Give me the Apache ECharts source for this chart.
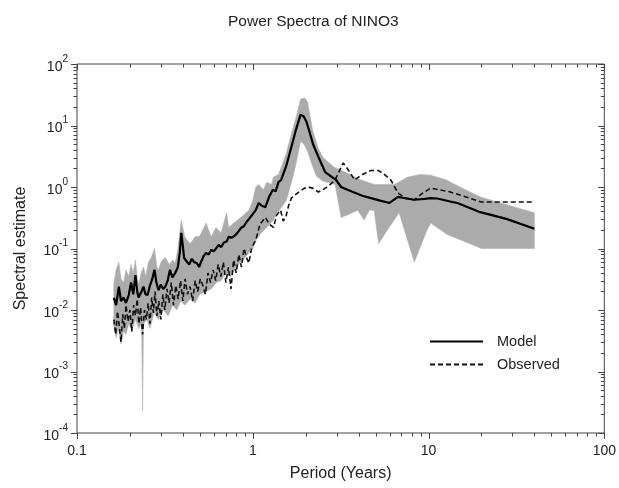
<!DOCTYPE html>
<html><head><meta charset="utf-8">
<script src="https://cdn.jsdelivr.net/npm/echarts@6/dist/echarts.min.js"></script>
<style>html,body{margin:0;padding:0;background:#fff}#c{width:619px;height:488px}</style>
</head><body><div id="c"></div>
<script>
// ---------- DATA ----------
const modelPeriod = [0.162,0.167,0.173,0.178,0.184,0.190,0.197,0.203,0.209,0.215,0.220,0.224,0.231,0.239,0.245,0.252,0.260,0.268,0.276,0.283,0.291,0.300,0.309,0.318,0.328,0.338,0.349,0.362,0.375,0.385,0.392,0.400,0.407,0.420,0.435,0.450,0.464,0.480,0.495,0.510,0.525,0.542,0.560,0.580,0.600,0.618,0.640,0.660,0.685,0.710,0.730,0.760,0.800,0.830,0.855,0.890,0.920,0.950,0.990,1.040,1.080,1.120,1.180,1.240,1.300,1.350,1.400,1.450,1.550,1.660,1.760,1.870,1.950,2.020,2.100,2.200,2.360,2.580,2.980,3.180,3.460,3.720,4.200,4.700,5.300,6.000,6.700,7.500,8.300,9.500,10.30,11.20,13.30,14.60,19.70,28.00,40.00];
const modelValue = [0.0157,0.012,0.024,0.014,0.016,0.013,0.0175,0.028,0.018,0.037,0.020,0.016,0.019,0.024,0.018,0.0175,0.025,0.032,0.045,0.028,0.021,0.026,0.022,0.024,0.030,0.045,0.034,0.040,0.050,0.090,0.180,0.110,0.070,0.062,0.055,0.068,0.060,0.058,0.050,0.062,0.075,0.085,0.080,0.095,0.090,0.100,0.115,0.105,0.125,0.130,0.155,0.150,0.167,0.190,0.215,0.230,0.270,0.300,0.350,0.420,0.550,0.500,0.470,0.700,0.900,0.850,1.200,1.300,2.200,4.500,8.500,15.0,14.0,11.5,8.0,5.0,3.1,1.75,1.30,1.00,0.90,0.83,0.72,0.66,0.60,0.55,0.69,0.65,0.62,0.64,0.66,0.65,0.58,0.55,0.39,0.30,0.21];

const obsPeriod = [0.162,0.166,0.170,0.174,0.178,0.182,0.186,0.190,0.195,0.200,0.205,0.210,0.215,0.220,0.225,0.230,0.236,0.242,0.248,0.254,0.260,0.266,0.272,0.278,0.285,0.292,0.300,0.308,0.316,0.325,0.334,0.344,0.354,0.365,0.376,0.388,0.400,0.412,0.425,0.440,0.455,0.470,0.486,0.503,0.520,0.538,0.556,0.575,0.595,0.615,0.636,0.658,0.680,0.703,0.727,0.752,0.778,0.805,0.833,0.862,0.892,0.923,0.949,0.988,1.040,1.100,1.180,1.240,1.310,1.370,1.440,1.490,1.540,1.600,1.660,1.750,1.850,1.960,2.070,2.200,2.360,2.500,2.690,2.940,3.100,3.270,3.450,3.800,4.200,4.700,5.200,5.600,6.100,6.700,7.400,8.300,9.300,10.30,13.30,20.00,40.00];
const obsValue = [0.0070,0.0040,0.0095,0.0055,0.0030,0.0085,0.0050,0.0120,0.0065,0.0100,0.0045,0.0120,0.0080,0.0150,0.0060,0.0110,0.0040,0.0100,0.0070,0.0130,0.0060,0.0160,0.0090,0.0200,0.0080,0.0140,0.0070,0.0180,0.0100,0.0220,0.0130,0.0280,0.0120,0.0250,0.0150,0.0300,0.0140,0.0320,0.0180,0.0240,0.0140,0.0300,0.0200,0.0320,0.0250,0.0180,0.0400,0.0280,0.0450,0.0300,0.0550,0.0350,0.0600,0.0280,0.0500,0.0220,0.0650,0.0400,0.0800,0.0500,0.1000,0.0700,0.0580,0.1050,0.137,0.250,0.320,0.250,0.220,0.350,0.420,0.280,0.320,0.500,0.660,0.750,0.850,0.950,1.000,0.950,0.830,0.900,1.030,1.300,1.800,2.460,2.000,1.300,1.600,1.850,1.850,1.600,1.300,0.800,0.660,0.620,0.800,0.960,0.830,0.570,0.570];

const bandUpperPeriod = [0.162,0.167,0.173,0.178,0.184,0.190,0.197,0.203,0.209,0.215,0.220,0.224,0.232,0.239,0.246,0.255,0.265,0.276,0.285,0.291,0.300,0.318,0.335,0.350,0.362,0.375,0.392,0.410,0.440,0.470,0.500,0.542,0.580,0.618,0.660,0.710,0.730,0.780,0.855,0.950,1.000,1.040,1.080,1.150,1.200,1.280,1.310,1.400,1.450,1.550,1.660,1.780,1.870,1.980,2.050,2.120,2.200,2.360,2.520,2.900,3.360,4.000,4.900,6.400,7.600,9.000,10.30,12.70,13.30,19.70,40.00];
const bandUpperValue = [0.027,0.045,0.060,0.032,0.028,0.045,0.035,0.055,0.040,0.065,0.035,0.026,0.040,0.050,0.035,0.060,0.072,0.100,0.050,0.045,0.060,0.072,0.055,0.065,0.058,0.100,0.290,0.155,0.120,0.155,0.160,0.260,0.155,0.220,0.180,0.380,0.220,0.260,0.320,0.420,0.600,1.000,1.100,0.900,1.200,1.100,1.450,1.600,2.100,3.500,7.500,15.0,27.0,28.0,24.0,14.0,8.0,4.2,3.0,2.1,1.75,1.35,1.10,1.10,1.45,1.60,1.55,1.30,1.20,0.69,0.38];

const bandLowerPeriod = [0.162,0.167,0.172,0.178,0.184,0.190,0.197,0.205,0.215,0.225,0.233,0.236,0.239,0.250,0.260,0.275,0.290,0.310,0.330,0.350,0.370,0.390,0.410,0.440,0.470,0.500,0.540,0.580,0.620,0.660,0.700,0.750,0.800,0.850,0.900,0.950,1.000,1.050,1.120,1.200,1.300,1.400,1.550,1.660,1.750,1.870,1.950,2.050,2.150,2.300,2.500,2.940,3.180,3.460,3.950,4.300,4.600,4.900,5.200,5.900,6.800,8.300,9.800,10.30,12.70,20.00,40.00];
const bandLowerValue = [0.0055,0.0035,0.0050,0.0028,0.0045,0.0040,0.0060,0.0045,0.0070,0.0050,0.0060,0.00023,0.0060,0.0070,0.0050,0.0090,0.0070,0.0100,0.0080,0.0120,0.0100,0.0140,0.0120,0.0150,0.0130,0.0180,0.0200,0.0220,0.0280,0.0300,0.0400,0.0350,0.0500,0.0600,0.0700,0.0850,0.1000,0.1400,0.1800,0.2200,0.2800,0.4000,0.6000,1.2000,2.2000,5.5000,5.0000,3.8000,2.5000,1.5000,1.2500,1.1000,0.3200,0.3500,0.4200,0.2900,0.4200,0.4200,0.1200,0.2100,0.3800,0.0600,0.2000,0.2600,0.1700,0.1000,0.1000];

const xTickLabels = ['0.1', '1', '10', '100'];
const xDecades = [0.1, 1, 10];
const yDecades = [1e-4, 1e-3, 1e-2, 1e-1, 1, 10];
const minorMultipliers = [2, 3, 4, 5, 6, 7, 8, 9];
const seriesNames = ['Model', 'Observed'];

// ---------- CHART ----------
const FONT = 'Liberation Sans, Arial, Helvetica, sans-serif';
const chart = echarts.init(document.getElementById('c'), null, {renderer: 'canvas'});

function zip(a, b) { return a.map((v, i) => [v, b[i]]); }

const X_MIN = 0.1, X_MAX = 100, Y_MIN = 1e-4, Y_MAX = 100;

const option = {
  animation: false,
  backgroundColor: '#fff',
  title: {
    text: 'Power Spectra of NINO3',
    left: 223, top: 9,
    textStyle: {fontFamily: FONT, fontSize: 15.5, fontWeight: 'normal', color: '#222'}
  },
  grid: {left: 77, right: 12, top: 64, bottom: 55, show: true, borderColor: '#444', borderWidth: 1, backgroundColor: 'transparent'},
  legend: {
    data: seriesNames,
    orient: 'vertical',
    left: 424, top: 329,
    itemWidth: 53, itemHeight: 12, itemGap: 8,
    itemStyle: {opacity: 0},
    textStyle: {fontFamily: FONT, fontSize: 14.5, color: '#222', padding: [0, 0, 0, 9]}
  },
  xAxis: {
    type: 'log', logBase: 10, min: X_MIN, max: X_MAX, splitNumber: 3,
    name: 'Period (Years)', nameLocation: 'middle', nameGap: 33,
    nameTextStyle: {fontFamily: FONT, fontSize: 16, color: '#222'},
    axisLine: {show: false}, axisTick: {show: false}, splitLine: {show: false},
    axisLabel: {
      fontFamily: FONT, fontSize: 14, color: '#222', margin: 11,
      formatter: v => xTickLabels[Math.round(Math.log10(v)) + 1]
    }
  },
  yAxis: {
    type: 'log', logBase: 10, min: Y_MIN, max: Y_MAX, splitNumber: 6,
    name: 'Spectral estimate', nameLocation: 'middle', nameGap: 48,
    nameTextStyle: {fontFamily: FONT, fontSize: 16, color: '#222'},
    axisLine: {show: false}, axisTick: {show: false}, splitLine: {show: false},
    axisLabel: {
      fontFamily: FONT, color: '#222', margin: 9,
      formatter: v => '{b|10}{s|' + Math.round(Math.log10(v)) + '}',
      rich: {
        b: {fontFamily: FONT, fontSize: 14, color: '#222', lineHeight: 20, verticalAlign: 'bottom'},
        s: {fontFamily: FONT, fontSize: 10, color: '#222', lineHeight: 20, verticalAlign: 'top'}
      }
    }
  },
  series: [
    {
      type: 'custom', name: 'band', coordinateSystem: 'cartesian2d', z: 1, silent: true,
      data: [[bandUpperPeriod[0], bandUpperValue[0]]],
      renderItem: (params, api) => {
        const pts = [];
        for (let i = 0; i < bandUpperPeriod.length; i++) pts.push(api.coord([bandUpperPeriod[i], bandUpperValue[i]]));
        for (let i = bandLowerPeriod.length - 1; i >= 0; i--) pts.push(api.coord([bandLowerPeriod[i], bandLowerValue[i]]));
        return {type: 'polygon', shape: {points: pts}, style: {fill: '#ababab', stroke: '#b3b3b3', lineWidth: 0.6}};
      }
    },
    {
      name: 'Observed', type: 'line', z: 3, symbol: 'none', showSymbol: false,
      data: zip(obsPeriod, obsValue),
      lineStyle: {color: '#111', width: 1.6, type: [5, 3]},
      itemStyle: {color: '#111'}
    },
    {
      name: 'Model', type: 'line', z: 4, symbol: 'none', showSymbol: false,
      data: zip(modelPeriod, modelValue),
      lineStyle: {color: '#000', width: 2.2},
      itemStyle: {color: '#000'}
    },
    {
      type: 'custom', name: 'ticks', coordinateSystem: 'cartesian2d', z: 6, silent: true,
      data: [[1, 1]],
      renderItem: (params, api) => {
        const children = [];
        const st = {stroke: '#444', lineWidth: 1};
        const yb = api.coord([X_MIN, Y_MIN])[1], yt = api.coord([X_MIN, Y_MAX])[1];
        const xl = api.coord([X_MIN, Y_MIN])[0], xr = api.coord([X_MAX, Y_MIN])[0];
        function xTick(v, len) {
          const x = Math.round(api.coord([v, Y_MIN])[0]) + 0.5;
          children.push({type: 'line', shape: {x1: x, y1: yb, x2: x, y2: yb + len}, style: st});
          children.push({type: 'line', shape: {x1: x, y1: yt, x2: x, y2: yt + len}, style: st});
        }
        function yTick(v, len) {
          const y = Math.round(api.coord([X_MIN, v])[1]) + 0.5;
          children.push({type: 'line', shape: {x1: xl, y1: y, x2: xl - len, y2: y}, style: st});
          children.push({type: 'line', shape: {x1: xr, y1: y, x2: xr - len, y2: y}, style: st});
        }
        xDecades.forEach(d => { xTick(d, 6); minorMultipliers.forEach(m => xTick(d * m, 3.5)); });
        xTick(X_MAX, 6);
        yDecades.forEach(d => { yTick(d, 6); minorMultipliers.forEach(m => yTick(d * m, 3.5)); });
        yTick(Y_MAX, 6);
        return {type: 'group', children};
      }
    }
  ]
};
chart.setOption(option);
</script>
</body></html>
